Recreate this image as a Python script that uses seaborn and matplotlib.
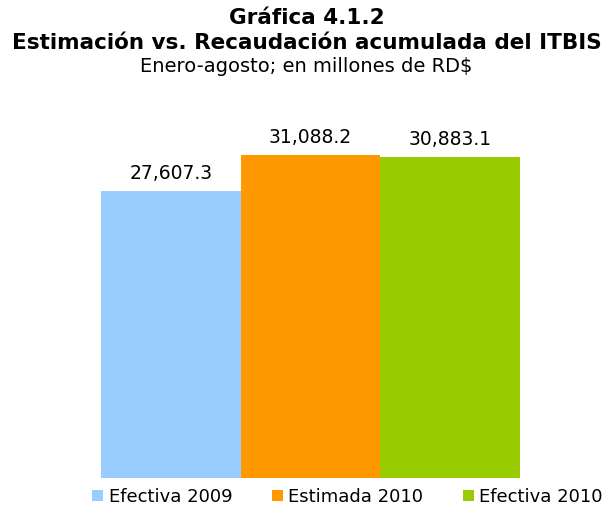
import matplotlib
matplotlib.use("Agg")
import matplotlib.pyplot as plt
import seaborn as sns
import pandas as pd
from matplotlib.patches import Patch

categories = ["Efectiva 2009", "Estimada 2010", "Efectiva 2010"]
values = [27607.3, 31088.2, 30883.1]
labels = ["27,607.3", "31,088.2", "30,883.1"]
colors = ["#99CCFF", "#FF9900", "#99CC00"]

sns.set_theme(style="white")
plt.rcParams['font.family'] = ['DejaVu Sans']
plt.rcParams['text.color'] = 'black'

W, H = 613, 515
fig = plt.figure(figsize=(W/100, H/100), dpi=100)
ax = fig.add_axes([101/W, 37/H, 419/W, 358/H])

df = pd.DataFrame({"cat": categories, "val": values})
sns.barplot(data=df, x="cat", y="val", hue="cat", palette=colors, width=1.0,
            ax=ax, legend=False, saturation=1, linewidth=0, edgecolor="none")
ax.set_xlim(-0.5, 2.5)
ax.set_ylim(0, 31088.2 * 358 / 323)
ax.axis("off")

for i, (v, lab) in enumerate(zip(values, labels)):
    ax.annotate(lab, (i, v), xytext=(0, 6), textcoords="offset points",
                ha="center", va="bottom", fontsize=13.5, color="black")

fig.text(0.5, 1 - 18/H, "Gráfica 4.1.2", ha="center", va="center",
         fontsize=15.5, fontweight="bold", color="black")
fig.text(0.5, 1 - 43/H, "Estimación vs. Recaudación acumulada del ITBIS", ha="center",
         va="center", fontsize=15.5, fontweight="bold", color="black")
fig.text(0.5, 1 - 67/H, "Enero-agosto; en millones de RD$", ha="center",
         va="center", fontsize=14, color="black")

handles = [Patch(facecolor=c, edgecolor="none") for c in colors]
fig.legend(handles, categories, loc="center", bbox_to_anchor=(0.567, 1 - 497/H),
           ncol=3, frameon=False, fontsize=13, handlelength=0.6, handleheight=0.6,
           handletextpad=0.3, columnspacing=2.2, labelcolor="black")

fig.savefig("out.png", dpi=100)
